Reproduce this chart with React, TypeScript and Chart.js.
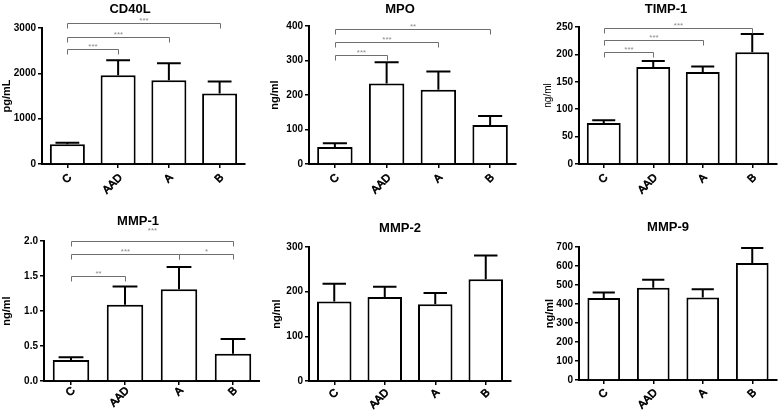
import React, { useEffect, useRef } from "react";
import { Chart, registerables } from "chart.js";

Chart.register(...registerables);

const FONT = "'Liberation Sans', Arial, Helvetica, sans-serif";
Chart.defaults.font.family = FONT;

// ---- data ----
const groups = ["C", "AAD", "A", "B"];

const cd40lMean = [435, 1960, 1850, 1555];
const cd40lSem = [35, 330, 375, 265];
const mpoMean = [49, 233, 215, 113];
const mpoSem = [11, 62, 53, 26];
const timp1Mean = [75, 177, 168, 204];
const timp1Sem = [5, 11, 10, 33];
const mmp1Mean = [0.3, 1.09, 1.31, 0.39];
const mmp1Sem = [0.04, 0.26, 0.32, 0.21];
const mmp2Mean = [178, 188, 172, 228];
const mmp2Sem = [40, 23, 25, 53];
const mmp9Mean = [432, 485, 434, 616];
const mmp9Sem = [28, 42, 44, 79];

// significance brackets: [from group, to group, bracket level (axis units), label]
const cd40lSig: [number, number, number, string][] = [
  [0, 1, 2530, "***"],
  [0, 2, 2795, "***"],
  [0, 3, 3105, "***"],
];
const mpoSig: [number, number, number, string][] = [
  [0, 1, 316, "***"],
  [0, 2, 353, "***"],
  [0, 3, 390, "**"],
];
const timp1Sig: [number, number, number, string][] = [
  [0, 1, 204, "***"],
  [0, 2, 226, "***"],
  [0, 3, 249, "***"],
];
const mmp1Sig: [number, number, number, string][] = [
  [0, 1, 1.5, "**"],
  [0, 2, 1.81, "***"],
  [2, 3, 1.81, "*"],
  [0, 3, 2.0, "***"],
];

// ---- layout / style per panel ----
type Cfg = {
  title: string;
  yTitle: string;
  mean: number[];
  sem: number[];
  max: number;
  step: number;
  decimals: number;
  sig: [number, number, number, string][];
  sigLift: number[];
  left: number;
  top: number;
  w: number;
  h: number;
  area: { l: number; t: number; r: number; b: number };
  titleX: number;
  titleY: number;
  yTitleX: number;
  yTitleBold: boolean;
  yTitleSize: number;
  barPct: number;
  labelDy: number;
};

const panels: Cfg[] = [
  {
    title: "CD40L", yTitle: "pg/mL", mean: cd40lMean, sem: cd40lSem, max: 3000, step: 1000, decimals: 0,
    sig: cd40lSig, sigLift: [0, 0, 0],
    left: 0, top: 0, w: 260, h: 205, area: { l: 42, t: 28, r: 245, b: 164 },
    titleX: 130, titleY: 9, yTitleX: 7, yTitleBold: true, yTitleSize: 11, barPct: 0.69, labelDy: 12,
  },
  {
    title: "MPO", yTitle: "ng/ml", mean: mpoMean, sem: mpoSem, max: 400, step: 100, decimals: 0,
    sig: mpoSig, sigLift: [0, 0, 0],
    left: 260, top: 0, w: 258, h: 205, area: { l: 49, t: 26, r: 256, b: 164 },
    titleX: 140, titleY: 9, yTitleX: 15, yTitleBold: true, yTitleSize: 11, barPct: 0.685, labelDy: 12,
  },
  {
    title: "TIMP-1", yTitle: "ng/ml", mean: timp1Mean, sem: timp1Sem, max: 250, step: 50, decimals: 0,
    sig: timp1Sig, sigLift: [0, 0, 0],
    left: 518, top: 0, w: 260, h: 205, area: { l: 61, t: 27, r: 259, b: 164 },
    titleX: 148, titleY: 9, yTitleX: 30, yTitleBold: false, yTitleSize: 10, barPct: 0.685, labelDy: 12,
  },
  {
    title: "MMP-1", yTitle: "ng/ml", mean: mmp1Mean, sem: mmp1Sem, max: 2, step: 0.5, decimals: 1,
    sig: mmp1Sig, sigLift: [0, 0, 0, 8],
    left: 0, top: 205, w: 260, h: 207, area: { l: 44, t: 36, r: 260, b: 176 },
    titleX: 138, titleY: 16, yTitleX: 6.6, yTitleBold: true, yTitleSize: 11, barPct: 0.676, labelDy: 8,
  },
  {
    title: "MMP-2", yTitle: "ng/ml", mean: mmp2Mean, sem: mmp2Sem, max: 300, step: 100, decimals: 0,
    sig: [], sigLift: [],
    left: 260, top: 205, w: 258, h: 207, area: { l: 49, t: 42, r: 251, b: 176 },
    titleX: 140, titleY: 23, yTitleX: 17, yTitleBold: true, yTitleSize: 11, barPct: 0.683, labelDy: 10,
  },
  {
    title: "MMP-9", yTitle: "ng/ml", mean: mmp9Mean, sem: mmp9Sem, max: 700, step: 100, decimals: 0,
    sig: [], sigLift: [],
    left: 518, top: 205, w: 260, h: 207, area: { l: 61, t: 42, r: 259, b: 175 },
    titleX: 150, titleY: 22, yTitleX: 32, yTitleBold: true, yTitleSize: 11, barPct: 0.66, labelDy: 11,
  },
];

function Panel({ cfg }: { cfg: Cfg }) {
  const ref = useRef<HTMLCanvasElement | null>(null);

  useEffect(() => {
    const c = cfg;
    const extras = {
      id: "panelExtras",
      afterDatasetsDraw(chart: any) {
        const ctx = chart.ctx as CanvasRenderingContext2D;
        const ys = chart.scales.y;
        const meta = chart.getDatasetMeta(0);
        ctx.save();
        // error bars (upper whisker only)
        ctx.strokeStyle = "#000";
        ctx.lineWidth = 2;
        ctx.lineCap = "butt";
        c.mean.forEach((m, i) => {
          const bar: any = meta.data[i];
          const x = bar.x;
          const half = bar.width * 0.34;
          const yTop = ys.getPixelForValue(m + c.sem[i]);
          const yBase = ys.getPixelForValue(m);
          ctx.beginPath();
          ctx.moveTo(x, yBase);
          ctx.lineTo(x, yTop);
          ctx.moveTo(x - half, yTop);
          ctx.lineTo(x + half, yTop);
          ctx.stroke();
        });
        // significance brackets
        ctx.strokeStyle = "#6e6e6e";
        ctx.lineWidth = 1;
        ctx.fillStyle = "#8c8c8c";
        ctx.font = `8px ${FONT}`;
        ctx.textAlign = "center";
        ctx.textBaseline = "alphabetic";
        c.sig.forEach(([a, b, lvl, label], k) => {
          const x1 = Math.round((meta.data[a] as any).x) + 0.5;
          const x2 = Math.round((meta.data[b] as any).x) + 0.5;
          const y = Math.round(ys.getPixelForValue(lvl)) + 0.5;
          ctx.beginPath();
          ctx.moveTo(x1, y + 5);
          ctx.lineTo(x1, y);
          ctx.lineTo(x2, y);
          ctx.lineTo(x2, y + 5);
          ctx.stroke();
          ctx.fillText(label, (x1 + x2) / 2, y - 0.5 - (c.sigLift[k] || 0));
        });
        ctx.restore();
      },
      afterDraw(chart: any) {
        const ctx = chart.ctx as CanvasRenderingContext2D;
        const xs = chart.scales.x;
        ctx.save();
        // category labels rotated 45 degrees (thickened regular weight)
        ctx.fillStyle = "#000";
        ctx.strokeStyle = "#000";
        ctx.lineWidth = 0.7;
        ctx.lineJoin = "round";
        ctx.font = `11px ${FONT}`;
        ctx.textAlign = "right";
        ctx.textBaseline = "middle";
        groups.forEach((g, i) => {
          const px = xs.getPixelForValue(i);
          ctx.save();
          ctx.translate(px + 2.5, xs.top + c.labelDy);
          ctx.rotate(-Math.PI / 4);
          ctx.fillText(g, 0, 0);
          ctx.strokeText(g, 0, 0);
          ctx.restore();
        });
        // panel title
        ctx.font = `bold 13px ${FONT}`;
        ctx.textAlign = "center";
        ctx.textBaseline = "middle";
        ctx.fillText(c.title, c.titleX, c.titleY);
        ctx.restore();
      },
    };

    const chart = new Chart(ref.current as HTMLCanvasElement, {
      type: "bar",
      data: {
        labels: groups,
        datasets: [
          {
            data: c.mean,
            backgroundColor: "#ffffff",
            borderColor: "#000000",
            borderWidth: 2,
            barPercentage: c.barPct,
            categoryPercentage: 1,
          },
        ],
      },
      options: {
        responsive: false,
        animation: false,
        layout: { padding: { left: 0, top: c.area.t, right: c.w - c.area.r, bottom: 0 } },
        plugins: {
          legend: { display: false },
          tooltip: { enabled: false },
          title: { display: false },
        },
        scales: {
          x: {
            type: "category",
            offset: true,
            grid: {
              display: true,
              drawOnChartArea: false,
              drawTicks: true,
              tickLength: 4,
              offset: false,
              color: "#000",
              lineWidth: 1.5,
            },
            border: { display: true, color: "#000", width: 2 },
            ticks: { display: false, autoSkip: false },
            afterFit: (s: any) => {
              s.height = c.h - c.area.b;
            },
          },
          y: {
            min: 0,
            max: c.max,
            ticks: {
              stepSize: c.step,
              color: "#000",
              font: { family: FONT, size: 10, weight: "bold" },
              padding: 2,
              callback: (v: any) => Number(v).toFixed(c.decimals),
            },
            grid: {
              drawOnChartArea: false,
              drawTicks: true,
              tickLength: 4,
              color: "#000",
              lineWidth: 1.5,
            },
            border: { display: true, color: "#000", width: 2 },
            title: {
              display: true,
              text: c.yTitle,
              color: "#000",
              font: { family: FONT, size: c.yTitleSize, weight: c.yTitleBold ? "bold" : "normal" },
              padding: { top: c.yTitleX - (c.yTitleSize * 1.2) / 2, bottom: 0 },
            },
            afterFit: (s: any) => {
              s.width = c.area.l;
            },
          },
        },
      } as any,
      plugins: [extras],
    });
    return () => chart.destroy();
  }, [cfg]);

  return (
    <canvas
      ref={ref}
      width={cfg.w}
      height={cfg.h}
      style={{ position: "absolute", left: cfg.left, top: cfg.top }}
    />
  );
}

export default function App() {
  useEffect(() => {
    document.body.style.margin = "0";
  }, []);
  return (
    <div style={{ position: "relative", width: 778, height: 412, background: "#fff", overflow: "hidden" }}>
      {panels.map((p, i) => (
        <Panel key={i} cfg={p} />
      ))}
    </div>
  );
}
